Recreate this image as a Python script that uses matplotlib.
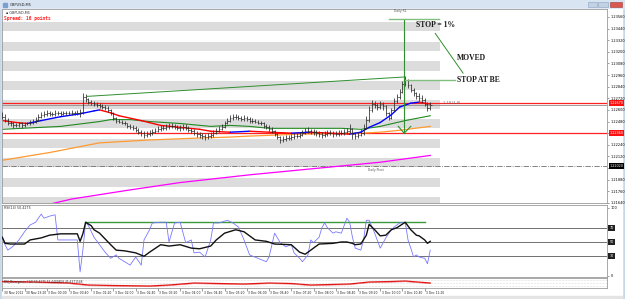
import matplotlib.pyplot as plt
from matplotlib.patches import Rectangle
from matplotlib.transforms import blended_transform_factory

W, H = 625, 299

# GBPUSD M5 bars
first_open = 1.2255
closes = [1.2253, 1.2250, 1.2247, 1.2246, 1.2244, 1.2244, 1.2246, 1.2244, 1.2246, 1.2246,
          1.2247, 1.2248, 1.2250, 1.2253, 1.2255, 1.2256, 1.2257, 1.2256, 1.2256, 1.2257,
          1.2257, 1.2256, 1.2257, 1.2257, 1.2257, 1.2257, 1.2257, 1.2257, 1.2258, 1.2273,
          1.2271, 1.2268, 1.2267, 1.2266, 1.2265, 1.2264, 1.2263, 1.2262, 1.2260, 1.2257,
          1.2252, 1.2249, 1.2248, 1.2247, 1.2246, 1.2243, 1.2242, 1.2241, 1.2239, 1.2237,
          1.2236, 1.2234, 1.2235, 1.2236, 1.2237, 1.2238, 1.2240, 1.2241, 1.2241, 1.2242,
          1.2243, 1.2243, 1.2242, 1.2241, 1.2241, 1.2242, 1.2241, 1.2239, 1.2238, 1.2236,
          1.2235, 1.2234, 1.2233, 1.2232, 1.2233, 1.2234, 1.2236, 1.2238, 1.2240, 1.2242,
          1.2246, 1.2249, 1.2252, 1.2253, 1.2253, 1.2252, 1.2251, 1.2252, 1.2251, 1.2249,
          1.2249, 1.2248, 1.2247, 1.2246, 1.2243, 1.2242, 1.2240, 1.2238, 1.2235, 1.2232,
          1.2229, 1.2230, 1.2231, 1.2231, 1.2232, 1.2233, 1.2233, 1.2234, 1.2236, 1.2238,
          1.2238, 1.2237, 1.2237, 1.2236, 1.2235, 1.2234, 1.2235, 1.2236, 1.2236, 1.2235,
          1.2235, 1.2236, 1.2236, 1.2237, 1.2238, 1.2240, 1.2235, 1.2233, 1.2234, 1.2236,
          1.2241, 1.2250, 1.2260, 1.2266, 1.2265, 1.2263, 1.2266, 1.2264, 1.2257, 1.2252,
          1.2260, 1.2269, 1.2273, 1.2279, 1.2287, 1.2291, 1.2286, 1.2281, 1.2277, 1.2274,
          1.2272, 1.2270, 1.2266, 1.2262, 1.2265]
highs = [1.2258, 1.2256, 1.2252, 1.2249, 1.2248, 1.2247, 1.2248, 1.2248, 1.2248, 1.2248,
         1.2250, 1.2251, 1.2253, 1.2256, 1.2258, 1.2259, 1.2260, 1.2259, 1.2258, 1.2260,
         1.2259, 1.2259, 1.2259, 1.2259, 1.2259, 1.2260, 1.2259, 1.2260, 1.2261, 1.2277,
         1.2276, 1.2272, 1.2270, 1.2269, 1.2268, 1.2267, 1.2266, 1.2265, 1.2264, 1.2261,
         1.2258, 1.2253, 1.2251, 1.2250, 1.2249, 1.2247, 1.2245, 1.2244, 1.2243, 1.2241,
         1.2239, 1.2238, 1.2238, 1.2239, 1.2240, 1.2241, 1.2243, 1.2244, 1.2244, 1.2245,
         1.2246, 1.2246, 1.2245, 1.2244, 1.2244, 1.2245, 1.2245, 1.2243, 1.2241, 1.2240,
         1.2238, 1.2237, 1.2236, 1.2235, 1.2236, 1.2237, 1.2239, 1.2241, 1.2243, 1.2245,
         1.2249, 1.2252, 1.2255, 1.2256, 1.2256, 1.2255, 1.2254, 1.2255, 1.2254, 1.2253,
         1.2252, 1.2251, 1.2250, 1.2249, 1.2248, 1.2245, 1.2244, 1.2242, 1.2239, 1.2236,
         1.2233, 1.2233, 1.2234, 1.2234, 1.2235, 1.2236, 1.2236, 1.2237, 1.2239, 1.2241,
         1.2242, 1.2240, 1.2240, 1.2239, 1.2238, 1.2237, 1.2238, 1.2239, 1.2239, 1.2238,
         1.2238, 1.2239, 1.2239, 1.2240, 1.2241, 1.2245, 1.2241, 1.2237, 1.2237, 1.2240,
         1.2245, 1.2254, 1.2264, 1.2270, 1.2269, 1.2267, 1.2269, 1.2268, 1.2265, 1.2258,
         1.2262, 1.2272, 1.2276, 1.2282, 1.2290, 1.2295, 1.2292, 1.2287, 1.2283, 1.2279,
         1.2277, 1.2275, 1.2272, 1.2268, 1.2268]
lows = [1.2251, 1.2248, 1.2244, 1.2243, 1.2241, 1.2242, 1.2242, 1.2241, 1.2242, 1.2244,
        1.2244, 1.2245, 1.2246, 1.2249, 1.2252, 1.2253, 1.2254, 1.2254, 1.2254, 1.2254,
        1.2255, 1.2254, 1.2255, 1.2255, 1.2255, 1.2255, 1.2255, 1.2255, 1.2253, 1.2256,
        1.2268, 1.2266, 1.2265, 1.2264, 1.2263, 1.2262, 1.2261, 1.2260, 1.2258, 1.2255,
        1.2250, 1.2247, 1.2246, 1.2245, 1.2244, 1.2241, 1.2240, 1.2239, 1.2237, 1.2235,
        1.2233, 1.2231, 1.2232, 1.2233, 1.2234, 1.2236, 1.2237, 1.2238, 1.2239, 1.2239,
        1.2240, 1.2241, 1.2240, 1.2239, 1.2238, 1.2239, 1.2239, 1.2237, 1.2236, 1.2234,
        1.2232, 1.2231, 1.2230, 1.2229, 1.2230, 1.2231, 1.2232, 1.2235, 1.2237, 1.2239,
        1.2241, 1.2245, 1.2248, 1.2250, 1.2251, 1.2250, 1.2249, 1.2249, 1.2249, 1.2247,
        1.2247, 1.2246, 1.2245, 1.2244, 1.2241, 1.2240, 1.2238, 1.2236, 1.2233, 1.2230,
        1.2226, 1.2227, 1.2228, 1.2229, 1.2229, 1.2230, 1.2231, 1.2231, 1.2233, 1.2235,
        1.2236, 1.2235, 1.2234, 1.2233, 1.2232, 1.2231, 1.2232, 1.2233, 1.2234, 1.2232,
        1.2233, 1.2233, 1.2234, 1.2234, 1.2235, 1.2236, 1.2230, 1.2230, 1.2231, 1.2233,
        1.2234, 1.2240, 1.2248, 1.2258, 1.2262, 1.2260, 1.2261, 1.2260, 1.2254, 1.2250,
        1.2251, 1.2259, 1.2267, 1.2271, 1.2277, 1.2285, 1.2283, 1.2278, 1.2274, 1.2271,
        1.2269, 1.2267, 1.2264, 1.2259, 1.2260]

# moving averages (sampled along the bars)
ma_idx = [0, 5, 9, 14, 21, 28, 33, 35, 39, 42, 50, 57, 64, 71, 75,
          82, 89, 96, 104, 111, 118, 125, 129, 132, 136, 140, 143, 147, 150, 154]
ma_fast = [1.2249, 1.2247, 1.2246, 1.2249, 1.2253, 1.2256, 1.2259, 1.2260, 1.2257, 1.2254,
           1.2249, 1.2244, 1.2242, 1.2240, 1.2238, 1.2237, 1.2238, 1.2237, 1.2236, 1.2237,
           1.2236, 1.2235, 1.2237, 1.2242, 1.2247, 1.2255, 1.2263, 1.2267, 1.2268, 1.2266]
ma_mid_idx = [0, 21, 35, 39, 46, 53, 64, 75, 82, 89, 96, 107, 122, 129, 136, 145, 154]
ma_mid = [1.2240, 1.2243, 1.2248, 1.2250, 1.2250, 1.2248, 1.2246, 1.2243, 1.2244, 1.2243,
          1.2241, 1.2241, 1.2241, 1.2240, 1.2243, 1.2249, 1.2254]
ma_slow_idx = [0, 17, 35, 53, 71, 82, 89, 107, 129, 136, 143, 154]
ma_slow = [1.2208, 1.2216, 1.2226, 1.2229, 1.2231, 1.2232, 1.2233, 1.2235, 1.2236, 1.2237,
           1.2239, 1.2243]
ma_long_idx = [10, 16, 25, 45, 64, 89, 107, 136, 154]
ma_long = [1.2159, 1.2162, 1.2168, 1.2177, 1.2185, 1.2193, 1.2198, 1.2206, 1.2213]

# horizontal levels
red_levels = [1.2267, 1.2236]
red_labels = ['1.22670', '1.22360']
bid_level = 1.2265
pivot_level = 1.2202
pivot_label = '1.22020'

# grey zones
band_top = [1.2351, 1.2330, 1.2310, 1.2290, 1.2270, 1.2251, 1.2230, 1.2210, 1.2190, 1.2170]
band_bot = [1.2341, 1.2321, 1.2300, 1.2281, 1.2261, 1.2241, 1.2221, 1.2201, 1.2180, 1.2160]

price_ticks = [1.2356, 1.2344, 1.2332, 1.2320, 1.2308, 1.2296, 1.2284, 1.2272, 1.2260,
               1.2248, 1.2236, 1.2224, 1.2212, 1.2200, 1.2188, 1.2176, 1.2164]
# labels hidden behind the coloured price boxes are left blank
price_tick_labels = ['1.23560', '1.23440', '1.23320', '1.23200', '1.23080', '1.22960',
                     '1.22840', '1.22720', '1.22600', '1.22480', '', '1.22240',
                     '1.22120', '', '1.21880', '1.21760', '1.21640']

# RSI(14) and the fast oscillator
rsi_idx = [0, 1, 3, 8, 10, 14, 17, 21, 27, 28, 29, 30, 32, 33, 35, 39, 41, 44, 48, 51,
           53, 57, 60, 64, 68, 71, 75, 77, 80, 84, 87, 91, 95, 98, 104, 107, 109, 111, 114, 119,
           122, 124, 126, 127, 129, 131, 132, 134, 136, 138, 140, 142, 145, 147, 149, 150, 152, 153, 154]
rsi_vals = [57, 48, 47, 47, 53, 56, 60, 62, 62, 51, 62, 79, 74, 68, 63, 46, 38, 37, 34, 29,
            35, 46, 44, 46, 41, 40, 44, 53, 63, 68, 65, 53, 51, 47, 46, 35, 32, 38, 47, 48,
            50, 50, 48, 46, 47, 60, 76, 68, 59, 60, 68, 71, 79, 68, 60, 59, 53, 48, 51]
osc_idx = [0, 1, 2, 4, 6, 8, 10, 12, 14, 15, 17, 19, 20, 27, 28, 29, 30, 31, 33, 35,
           37, 39, 41, 42, 44, 46, 48, 50, 51, 53, 54, 57, 59, 60, 62, 64, 66, 68, 69, 71,
           73, 75, 76, 78, 81, 83, 85, 87, 89, 92, 95, 96, 98, 100, 102, 104, 105, 107, 108, 110,
           111, 112, 114, 115, 116, 117, 119, 120, 122, 124, 125, 126, 127, 129, 130, 131, 132, 134, 136, 138,
           140, 141, 143, 145, 146, 147, 148, 149, 150, 152, 153, 154]
osc_vals = [57, 46, 38, 44, 53, 65, 75, 79, 91, 85, 88, 90, 53, 53, 6, 38, 79, 74, 57, 46,
            35, 26, 31, 26, 21, 16, 28, 16, 53, 68, 78, 79, 79, 50, 78, 79, 49, 53, 34, 35,
            28, 53, 78, 78, 82, 78, 72, 53, 31, 26, 21, 28, 63, 49, 43, 46, 34, 26, 21, 31,
            53, 49, 57, 71, 78, 71, 63, 65, 63, 85, 79, 57, 41, 38, 53, 82, 82, 63, 41, 56,
            68, 72, 78, 79, 53, 41, 28, 31, 28, 26, 18, 38]
rsi_levels = [70, 50, 30]
rsi_high_line = 79

# RSI divergence panel
div_idx = [0, 12, 24, 31, 40, 53, 60, 69, 78, 87, 96, 104, 111, 125, 132, 140, 145, 154]
div_vals = [0.3, 0.2, 0.0, -0.4, -0.5, -0.6, -0.4, 0.0, -0.1, -0.2, 0.0, -0.1, -0.4, -0.2,
            0.2, 0.3, 0.4, 0.0]

time_idx = list(range(0, 153, 8))
time_labels = ['30 Nov 2012', '30 Nov 23:20', '3 Dec 00:00', '3 Dec 00:40', '3 Dec 01:20',
               '3 Dec 02:00', '3 Dec 02:40', '3 Dec 03:20', '3 Dec 04:00', '3 Dec 04:40',
               '3 Dec 05:20', '3 Dec 06:00', '3 Dec 06:40', '3 Dec 07:20', '3 Dec 08:00',
               '3 Dec 08:40', '3 Dec 09:20', '3 Dec 10:00', '3 Dec 10:40', '3 Dec 11:20']


def box(x0, y0, x1, y1):
    return [x0 / W, 1 - y1 / H, (x1 - x0) / W, (y1 - y0) / H]


fig = plt.figure(figsize=(6.25, 2.99), dpi=100)
fig.patch.set_facecolor('#c9d7ea')

# window chrome
bg = fig.add_axes([0, 0, 1, 1], zorder=-5)
bg.set_xlim(0, W)
bg.set_ylim(H, 0)
bg.axis('off')
bg.add_patch(Rectangle((0, 0), W, 9, color='#d9e4f2'))
bg.add_patch(Rectangle((2, 9), 620, 288, color='white'))
bg.add_patch(Rectangle((2, 296), 620, 3, color='#e4e4e4'))
bg.add_patch(Rectangle((588, 2), 9, 5, color='#c3d1e4', ec='#8ea3bf', lw=0.4))
bg.add_patch(Rectangle((598, 2), 10, 5, color='#c3d1e4', ec='#8ea3bf', lw=0.4))
bg.add_patch(Rectangle((610, 2), 12, 5, color='#d9574e', ec='#9c3b35', lw=0.4))
bg.text(10, 4.5, 'GBPUSD,M5', fontsize=2.6, va='center', color='#202020')
bg.add_patch(Rectangle((3, 2.5), 4, 4, color='#7aa0d0'))

# ---- main price panel
ax = fig.add_axes(box(2, 9, 607, 203))
ax.set_xlim(-0.1, 217.6)
ax.set_ylim(1.21639, 1.23642)
for s in ax.spines.values():
    s.set_color('#9a9a9a')
    s.set_linewidth(0.6)
ax.set_xticks([])
ax.yaxis.tick_right()
ax.set_yticks(price_ticks)
ax.set_yticklabels(price_tick_labels)
ax.tick_params(axis='y', labelsize=2.5, length=1.5, width=0.4, pad=1, color='#555555')

for lo, hi in zip(band_bot, band_top):
    ax.fill_between([-1, 157.6], lo, hi, color='#dcdcdc', lw=0, zorder=0)

for lvl in red_levels:
    ax.axhline(lvl, color='#ff2020', lw=0.9, zorder=1)
ax.axhline(bid_level, color='#8c8c8c', lw=0.6, zorder=1)
ax.axhline(pivot_level, color='#707070', lw=0.6, ls='-.', zorder=1)

tr = blended_transform_factory(ax.transAxes, ax.transData)
for lvl, lab in zip(red_levels, red_labels):
    ax.text(1.004, lvl, lab, transform=tr, fontsize=2.4, color='white', va='center',
            clip_on=False, bbox=dict(boxstyle='square,pad=0.25', fc='#ff1010', ec='none'))
ax.text(1.004, pivot_level, pivot_label, transform=tr, fontsize=2.4, color='white',
        va='center', clip_on=False, bbox=dict(boxstyle='square,pad=0.25', fc='black', ec='none'))

# moving averages
ax.plot(ma_long_idx, ma_long, color='#ff00ff', lw=0.9, zorder=2)
ax.plot(ma_slow_idx, ma_slow, color='#ff9a30', lw=0.9, zorder=2)
ax.plot(ma_mid_idx, ma_mid, color='#1f8a1f', lw=0.8, zorder=2)
for k in range(len(ma_idx) - 1):
    c = '#0000ff' if ma_fast[k + 1] >= ma_fast[k] else '#ff0000'
    ax.plot(ma_idx[k:k + 2], ma_fast[k:k + 2], color=c, lw=1.0, zorder=2,
            solid_capstyle='round')

# OHLC bars
idx = list(range(len(closes)))
opens = [first_open] + closes[:-1]
ax.vlines(idx, lows, highs, color='#2a2a2a', lw=0.55, zorder=3)
ax.hlines(opens, [i - 0.45 for i in idx], idx, color='#2a2a2a', lw=0.5, zorder=3)
ax.hlines(closes, idx, [i + 0.45 for i in idx], color='#2a2a2a', lw=0.5, zorder=3)

# hand drawn objects
g = '#2f8f2f'
ax.plot([30.6, 144.6], [1.2274, 1.2294], color=g, lw=0.7, zorder=4)
ax.plot([144.6, 163.0], [1.2291, 1.2291], color='#7fbf7f', lw=1.0, zorder=4)
ax.plot([144.6, 144.6], [1.2354, 1.2236], color=g, lw=0.8, zorder=4)
ax.plot([139.0, 157.0], [1.2354, 1.2354], color='#7fbf7f', lw=1.0, zorder=4)
ax.plot([142.5, 144.6, 147.0], [1.2243, 1.2236, 1.2243], color=g, lw=0.8, zorder=4)
ax.plot([155.8, 165.8], [1.2339, 1.2298], color=g, lw=0.7, zorder=4)

serif = dict(family='Liberation Serif', weight='bold', fontsize=5.5, color='#1a1a1a')
ax.text(149.0, 1.2348, 'STOP = 1%', va='center', **serif)
ax.text(163.7, 1.2314, 'MOVED', va='center', **serif)
ax.text(163.7, 1.2291, 'STOP AT BE', va='center', **serif)
ax.text(158.6, 1.2267, '1.19 (1.0)', va='center', fontsize=2.5, color='#606060')
ax.text(131.5, 1.2198, 'Daily Pivot', va='center', fontsize=2.2, color='#505050')
ax.text(141.0, 1.2362, 'Daily R1', va='center', fontsize=2.2, color='#505050')

fig.text(6 / W, 1 - 13 / H, '\u25aa GBPUSD,M5', fontsize=2.4, color='#303030', va='center')
fig.text(4 / W, 1 - 18.5 / H, 'Spread: 16 points', fontsize=3.3, color='#ff2020',
         family='DejaVu Sans Mono', weight='bold', va='center')

# ---- RSI panel
ar = fig.add_axes(box(2, 205, 607, 277))
ar.set_xlim(-0.1, 217.6)
ar.set_ylim(-1.5, 104.4)
for s in ar.spines.values():
    s.set_color('#9a9a9a')
    s.set_linewidth(0.6)
ar.set_xticks([])
ar.yaxis.tick_right()
ar.set_yticks([0, 100])
ar.set_yticklabels(['0', '100'])
ar.tick_params(axis='y', labelsize=2.5, length=1.5, width=0.4, pad=1, color='#555555')
for lvl in rsi_levels:
    ar.axhline(lvl, color='#707070', lw=0.7, zorder=1)
    ar.text(1.004, lvl, str(lvl), transform=blended_transform_factory(ar.transAxes, ar.transData),
            fontsize=2.4, color='white', va='center', clip_on=False,
            bbox=dict(boxstyle='square,pad=0.3', fc='#202020', ec='none'))
ar.plot([29.9, 152.0], [rsi_high_line, rsi_high_line], color='#3a9a3a', lw=1.0, zorder=2)
ar.plot(osc_idx, osc_vals, color='#7878ff', lw=0.6, zorder=3)
ar.plot(rsi_idx, rsi_vals, color='#111111', lw=1.0, zorder=4)
ar.text(0.004, 0.955, 'RSI(14) 50.4275', transform=ar.transAxes, fontsize=2.3,
        color='#303030', va='center')

# ---- divergence panel
ad = fig.add_axes(box(2, 278, 607, 288))
ad.set_xlim(-0.1, 217.6)
ad.set_ylim(-1, 1)
for s in ad.spines.values():
    s.set_color('#9a9a9a')
    s.set_linewidth(0.6)
ad.set_yticks([])
for lvl in (0.6, 0.0, -0.6):
    ad.axhline(lvl, color='#c0c0c0', lw=0.4, ls=':', zorder=1)
ad.plot(div_idx, div_vals, color='#e01818', lw=0.9, zorder=3)
ad.plot(div_idx, [v - 0.15 for v in div_vals], color='#f08080', lw=0.4, zorder=2)
ad.text(0.004, 0.62, 'RSI_Divergence (14) 50.4275 53.4489858 45.6371548', transform=ad.transAxes,
        fontsize=2.1, color='#303030', va='center')
ad.set_xticks(time_idx)
ad.set_xticklabels([])
ad.tick_params(axis='x', length=2, width=0.4, color='#555555')
trx = blended_transform_factory(ad.transData, ad.transAxes)
for i, lab in zip(time_idx, time_labels):
    ad.text(i + 0.5, -0.45, lab, transform=trx, fontsize=2.2, color='#202020',
            va='center', ha='left', clip_on=False)

fig.savefig('out.png', dpi=100, facecolor=fig.get_facecolor())
